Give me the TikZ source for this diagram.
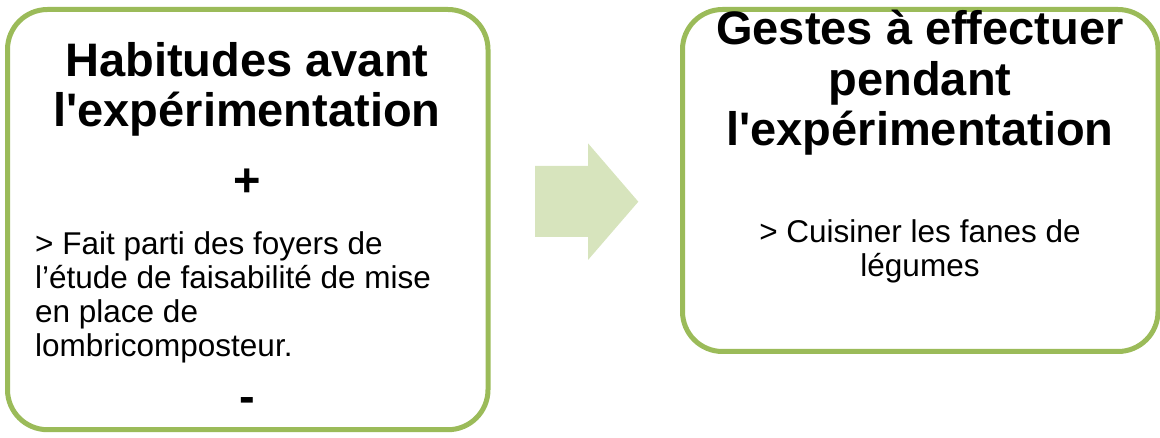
\documentclass[tikz,border=0pt]{standalone}
\usepackage{fontspec}
\setmainfont{Liberation Sans}[Ligatures=TeXOff]
\definecolor{boxgreen}{HTML}{9BBB59}
\definecolor{arrowgreen}{HTML}{D7E4BD}
\tikzset{
  box/.style={draw=boxgreen, line width=5pt, rounded corners=40pt},
  title/.style={anchor=base, inner sep=0pt, font=\fontsize{47}{50}\selectfont\bfseries},
  body/.style={anchor=base, inner sep=0pt, font=\fontsize{31.5}{34}\selectfont},
  bodyleft/.style={body, anchor=base west},
  bigarrow/.style={fill=arrowgreen, draw=none}
}
\begin{document}
\begin{tikzpicture}[x=1pt,y=-1pt]
\useasboundingbox (0,0) rectangle (1160,438);
% boxes
\draw[box] (7.5,9.5) rectangle (488,429.7);
\draw[box] (682.5,9.5) rectangle (1158,351.5);
% arrow
\fill[bigarrow] (535,166) -- (588,166) -- (588,143.3) -- (638.3,201.7) -- (588,260) -- (588,237) -- (535,237) -- cycle;
% left box texts
\node[title] (lt1) at (247,77) {Habitudes avant};
\node[title] (lt2) at (247,127) {l'expérimentation};
\node[title] (plus) at (247,197) {+};
\node[bodyleft] (lb1) at (35,255) {> Fait parti des foyers de};
\node[bodyleft] (lb2) at (35,289) {l’étude de faisabilité de mise};
\node[bodyleft] (lb3) at (35,323) {en place de};
\node[bodyleft] (lb4) at (35,357) {lombricomposteur.};
\node[title] (minus) at (247,413) {-};
% right box texts
\node[title] (rt1) at (920,45) {Gestes à effectuer};
\node[title] (rt2) at (920,95.5) {pendant};
\node[title] (rt3) at (920,146) {l'expérimentation};
\node[body] (rb1) at (920,243) {> Cuisiner les fanes de};
\node[body] (rb2) at (920,277) {légumes};
\end{tikzpicture}
\end{document}
